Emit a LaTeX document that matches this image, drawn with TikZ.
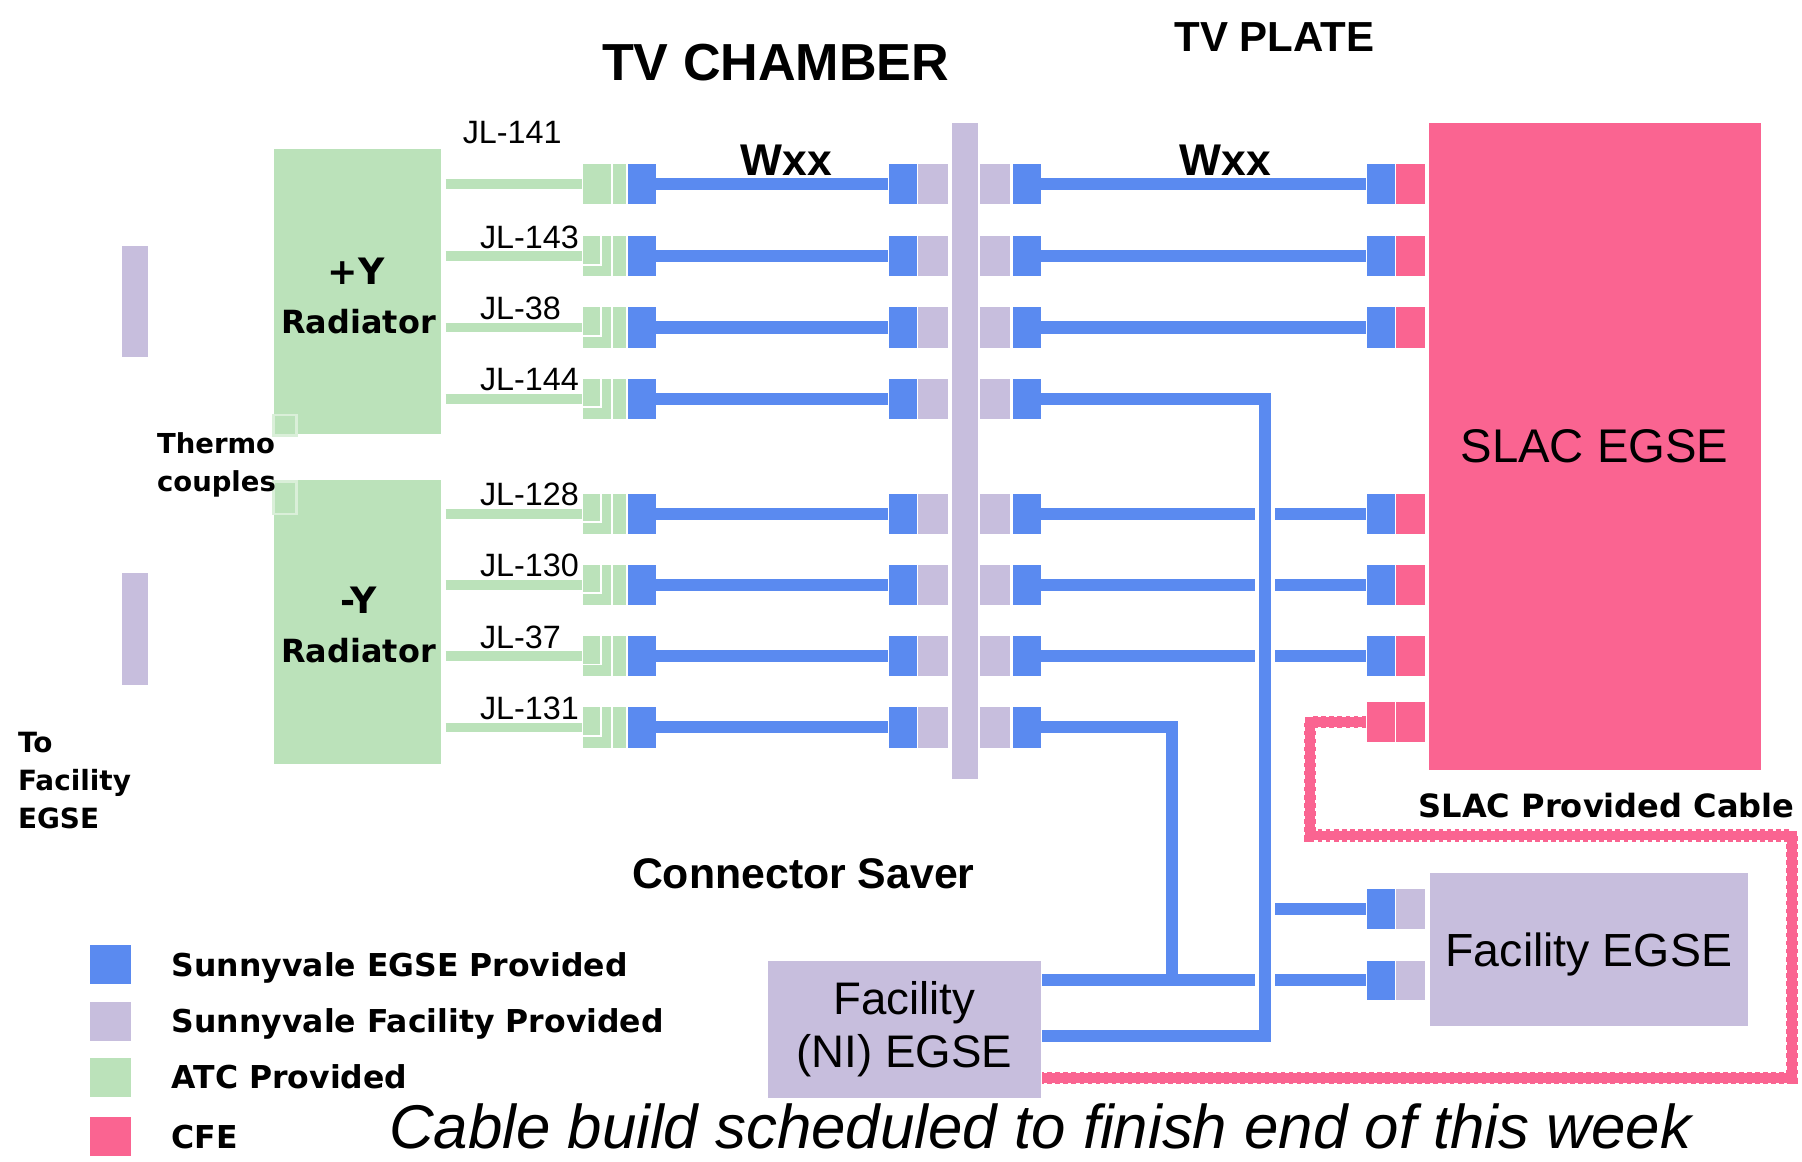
\documentclass[tikz,border=0pt]{standalone}
\usepackage{fontspec}
\setmainfont{Liberation Sans}
\newfontfamily\pixfont{DejaVu Sans}
\usetikzlibrary{positioning}

\definecolor{sunblue}{RGB}{90,138,240}
\definecolor{sunlav}{RGB}{199,190,221}
\definecolor{atcgreen}{RGB}{187,226,186}
\definecolor{cfepink}{RGB}{250,100,145}

\tikzset{
  blk/.style={rectangle, inner sep=0pt, minimum height=3.5mm},
  bconn/.style={blk, fill=sunblue, minimum width=2.4mm},
  lconn/.style={blk, fill=sunlav, minimum width=2.6mm},
  pconn/.style={blk, fill=cfepink, minimum width=2.5mm},
  gconn/.style={blk, fill=atcgreen, minimum width=3.8mm},
  cable/.style={draw=sunblue, line width=1.05mm, line join=miter},
  stub/.style={draw=atcgreen, line width=0.85mm},
  slaccable/.style={draw=cfepink, line width=0.85mm, line join=miter,
    preaction={draw=cfepink, line width=1.05mm, dash pattern=on 0.4mm off 0.3mm}},
  jl/.style={inner sep=0pt, font=\fontsize{8}{9}\selectfont},
  pix/.style 2 args={inner sep=0pt, font=\pixfont\bfseries\fontsize{#1}{#2}\selectfont},
  legtxt/.style={pix={7.8}{9}, text height=5.7pt, text depth=0pt},
  swatch/.style={rectangle, inner sep=0pt, minimum width=3.6mm, minimum height=3.4mm}
}

\begin{document}
\begin{tikzpicture}[x=0.1mm, y=-0.1mm]
\useasboundingbox (0,0) rectangle (1568,1011.1);

% headings
\node[inner sep=0pt, anchor=base, font=\bfseries\fontsize{12.9}{15}\selectfont] (chamber) at (675,70) {TV CHAMBER};
\node[inner sep=0pt, anchor=base, font=\bfseries\fontsize{10.4}{12}\selectfont] (plate) at (1109,45) {TV PLATE};
\node[inner sep=0pt, anchor=base, font=\bfseries\fontsize{11}{12}\selectfont] (wxxA) at (684,153) {Wxx};
\node[inner sep=0pt, anchor=base, font=\bfseries\fontsize{11}{12}\selectfont] (wxxB) at (1066,153) {Wxx};

% radiators and thermocouples
\node[blk, fill=atcgreen, minimum width=14.6mm, minimum height=24.8mm] (radP) at (311,254) {};
\node[blk, fill=atcgreen, minimum width=14.6mm, minimum height=24.7mm] (radM) at (311,541.5) {};
\node[pix={9}{10}] (radPy) at (310,236) {+Y};
\node[pix={7.9}{9}] (radPt) at (312,280) {Radiator};
\node[pix={9}{10}] (radMy) at (312,522) {-Y};
\node[pix={7.9}{9}] (radMt) at (312,566) {Radiator};
\draw[white!45!atcgreen, line width=0.2mm] (238,361) rectangle (258,379);
\draw[white!45!atcgreen, line width=0.2mm] (238,419) rectangle (258,447);
\node[blk, fill=sunlav, minimum width=2.3mm, minimum height=9.7mm] (tcA) at (117.5,262.5) {};
\node[blk, fill=sunlav, minimum width=2.3mm, minimum height=9.7mm] (tcB) at (117.5,547.5) {};
\node[pix={6.8}{9.4}, align=left, anchor=north west] (thermo) at (136,376) {Thermo\\couples};
\node[pix={6.9}{9.5}, align=left, anchor=north west] (tofac) at (15,636) {To\\Facility\\EGSE};

% connector saver bulkhead and equipment
\node[blk, fill=sunlav, minimum width=2.3mm, minimum height=57.1mm] (bulk) at (839.5,392.5) {};
\node[blk, fill=cfepink, minimum width=28.9mm, minimum height=56.3mm,
  font=\fontsize{11.7}{14}\selectfont] (slac) at (1387.5,388.5) {SLAC EGSE};
\node[blk, fill=sunlav, minimum width=27.7mm, minimum height=13.3mm, text depth=0pt,
  font=\fontsize{11.5}{14}\selectfont] (fac) at (1382.5,826.5) {Facility EGSE};
\node[blk, fill=sunlav, minimum width=23.8mm, minimum height=11.9mm, align=center,
  font=\fontsize{11.3}{13.1}\selectfont] (ni) at (787,895.5) {Facility\\(NI) EGSE};

% harness rows
\foreach \i/\y/\n/\lx/\ly in {1/160/141/402/125, 2/223/143/417/216, 3/285/38/417/278,
    4/347/144/417/340, 5/447/128/417/440, 6/509/130/417/502, 7/571/37/417/564, 8/633/131/417/626}{
  \node[gconn] (gc\i) at (526,\y) {};
  \node[bconn] (ba\i) at (558.5,\y) {};
  \node[bconn] (bb\i) at (785.5,\y) {};
  \node[lconn] (la\i) at (812,\y) {};
  \node[lconn] (lb\i) at (866,\y) {};
  \node[bconn] (bc\i) at (893.5,\y) {};
  \node[jl, anchor=base west] (jl\i) at (\lx,\ly) {JL-\n};
  \draw[stub, shorten <=0.3mm] (radP.east |- gc\i.west) -- (gc\i.west);
  \draw[cable] (ba\i) -- (bb\i);
  \draw[white, line width=0.2mm] ([xshift=0.65mm]gc\i.north) -- ([xshift=0.65mm]gc\i.south);
  \ifnum\i>1
    \draw[white, line width=0.15mm] ([xshift=-0.3mm]gc\i.north) -- ++(0,25.5) -- ++(-16,0);
  \fi
}

% rows ending at SLAC EGSE
\foreach \i/\y in {1/160, 2/223, 3/285, 5/447, 6/509, 7/571}{
  \node[bconn] (bd\i) at (1201.5,\y) {};
  \node[pconn] (pk\i) at (1227.5,\y) {};
  \draw[cable] (bc\i) -- (bd\i);
}

% facility EGSE connectors
\node[bconn, minimum height=3.4mm] (fb1) at (1201.5,791) {};
\node[lconn, minimum width=2.5mm, minimum height=3.4mm] (fl1) at (1227.5,791) {};
\node[bconn, minimum height=3.4mm] (fb2) at (1201.5,853) {};
\node[lconn, minimum width=2.5mm, minimum height=3.4mm] (fl2) at (1227.5,853) {};
\node[pconn, minimum width=2.4mm] (pc1) at (1201.5,628.5) {};
\node[pconn] (pc2) at (1227.5,628.5) {};

% bus lines
\coordinate (busA) at (1100.5,347);
\coordinate (busC) at (1100.5,901.5);
\coordinate (busB) at (1020,633);
\draw[cable] (busA |- fb1) -- (fb1);
\draw[cable] (ni.east |- fb2) -- (fb2);
\draw[cable] (bc8) -- (busB) -- (busB |- fb2);
\draw[cable, preaction={draw=white, line width=1.7mm}] (bc4) -- (busA) -- (busC) -- (ni.east |- busC);

% SLAC provided cable
\coordinate (pinkA) at (1140,628.5);
\coordinate (pinkB) at (1140,727);
\coordinate (pinkC) at (1559,727);
\coordinate (pinkD) at (1559,938);
\draw[slaccable] (pc1) -- (pinkA) -- (pinkB) -- (pinkC) -- (pinkD) -- (ni.east |- pinkD);
\node[pix={7.94}{9}, anchor=base] (slaccab) at (1398,711) {SLAC Provided Cable};
\node[inner sep=0pt, anchor=base, font=\bfseries\fontsize{10.6}{12}\selectfont] (saver) at (699,773) {Connector Saver};

% legend
\node[swatch, fill=sunblue] (lg1) at (96,839.5) {};
\node[swatch, fill=sunlav] (lg2) at (96,888.5) {};
\node[swatch, fill=atcgreen] (lg3) at (96,937.5) {};
\node[swatch, fill=cfepink] (lg4) at (96,989) {};
\node[legtxt, right=3.4mm of lg1] (lt1) {Sunnyvale EGSE Provided};
\node[legtxt, right=3.4mm of lg2] (lt2) {Sunnyvale Facility Provided};
\node[legtxt, right=3.4mm of lg3] (lt3) {ATC Provided};
\node[legtxt, right=3.4mm of lg4] (lt4) {CFE};

\node[inner sep=0pt, anchor=base west, font=\itshape\fontsize{15.3}{18}\selectfont] (note) at (338,999)
  {Cable build scheduled to finish end of this week};
\end{tikzpicture}
\end{document}
